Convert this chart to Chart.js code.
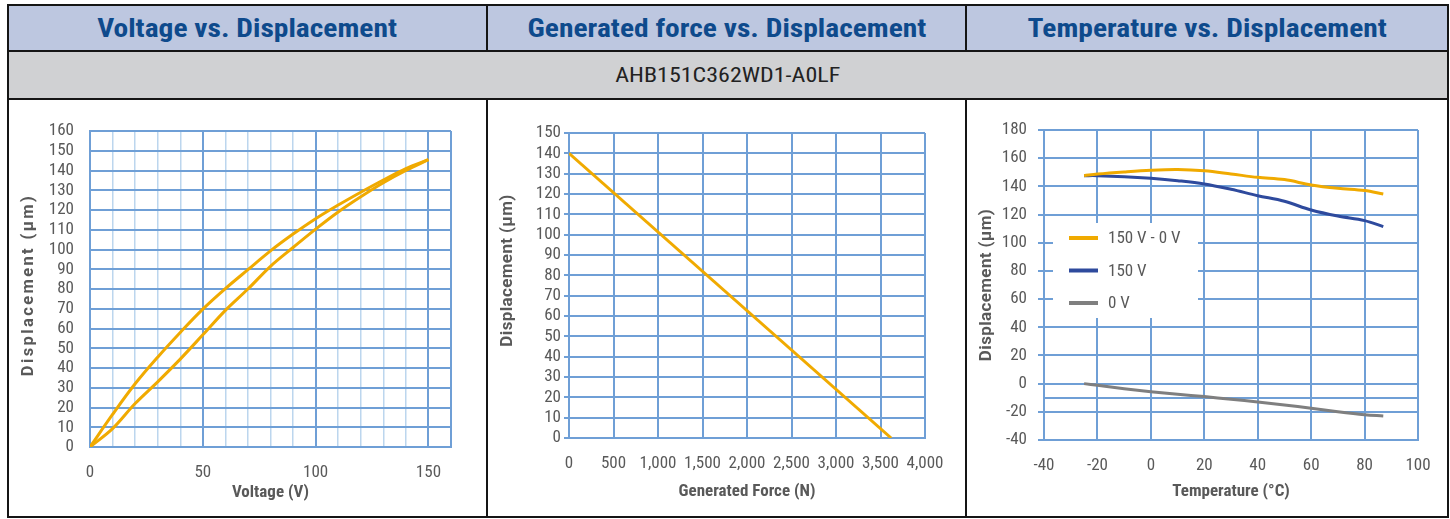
<!DOCTYPE html>
<html>
<head>
<meta charset="utf-8">
<script src="https://cdn.jsdelivr.net/npm/chart.js@4.4.1/dist/chart.umd.min.js"></script>
<style>
html,body{margin:0;padding:0;background:#fff;width:1450px;height:519px;overflow:hidden;}
.ln{position:absolute;background:#151515;}
.hd{position:absolute;top:6px;height:44px;background:#bdc7e0;display:flex;align-items:center;justify-content:center;font-weight:700;font-size:25px;color:#0e4a8c;white-space:nowrap;}
.gr{position:absolute;left:9px;top:52px;width:1438px;height:46px;background:#d0d1d3;display:flex;align-items:center;justify-content:center;font-size:20px;color:#222;}
.hd span,.gr span{display:inline-block;transform:scaleX(1.18);transform-origin:50% 50%;}
.gr span{transform:scaleX(1.2);}
.pn{position:absolute;top:100px;height:416px;background:#fff;}
canvas{display:block;}
</style>
</head>
<body>
<div class="hd" id="h1" style="left:9px;width:477px;"><span>Voltage vs. Displacement</span></div>
<div class="hd" id="h2" style="left:488px;width:477px;"><span>Generated force vs. Displacement</span></div>
<div class="hd" id="h3" style="left:967px;width:480px;"><span>Temperature vs. Displacement</span></div>
<div class="gr" id="model"><span>AHB151C362WD1-A0LF</span></div>
<div class="pn" style="left:9px;width:477px;"><canvas id="c1" width="477" height="416"></canvas></div>
<div class="pn" style="left:488px;width:477px;"><canvas id="c2" width="477" height="416"></canvas></div>
<div class="pn" style="left:967px;width:480px;"><canvas id="c3" width="480" height="416"></canvas></div>
<!-- table borders -->
<div class="ln" style="left:7px;top:4px;width:1442px;height:2px;"></div>
<div class="ln" style="left:7px;top:50px;width:1442px;height:2px;"></div>
<div class="ln" style="left:7px;top:98px;width:1442px;height:2px;"></div>
<div class="ln" style="left:7px;top:516px;width:1442px;height:2px;"></div>
<div class="ln" style="left:7px;top:4px;width:2px;height:514px;"></div>
<div class="ln" style="left:1447px;top:4px;width:2px;height:514px;"></div>
<div class="ln" style="left:486px;top:4px;width:2px;height:48px;"></div>
<div class="ln" style="left:965px;top:4px;width:2px;height:48px;"></div>
<div class="ln" style="left:486px;top:98px;width:2px;height:420px;"></div>
<div class="ln" style="left:965px;top:98px;width:2px;height:420px;"></div>
<script>
// ---------- DATA ----------
// Chart 1: Voltage vs. Displacement (hysteresis loop)
const voltageRise = [0, 10, 20, 30, 40, 50, 60, 70, 80, 90, 100, 110, 120, 130, 140, 150];
const dispRise    = [0, 9.3, 22, 33, 44.5, 56.8, 69.2, 80, 91.5, 101, 110.3, 119, 126.7, 133.8, 140, 145.5];
const voltageFall = [150, 140, 130, 120, 110, 100, 90, 80, 70, 60, 50, 40, 30, 20, 10, 0];
const dispFall    = [145.5, 141, 135.2, 129, 122.5, 115.6, 107.8, 99.3, 89.8, 80.2, 69.8, 58, 45.5, 32, 16.5, 0];

// Chart 2: Generated force vs. Displacement
const forceN    = [0, 3620];
const forceDisp = [140, 0];

// Chart 3: Temperature vs. Displacement
const tempC      = [-25, -20, -10, 0, 10, 20, 30, 40, 50, 60, 70, 80, 87];
const disp150to0 = [147.6, 148.7, 150.2, 151.4, 151.9, 151, 148.8, 146.4, 144.8, 141, 138.6, 137, 134.6];
const disp150    = [147.6, 147.6, 146.9, 145.7, 144, 141.7, 137.9, 133.4, 129.4, 123.2, 118.9, 115.7, 111.4];
const disp0      = [0, -1.2, -3.6, -5.7, -7.6, -9.2, -11.1, -13, -15.1, -17.5, -19.9, -22, -23];
const tempSeriesLabels = ['150 V - 0 V', '150 V', '0 V'];

// Tick settings
const voltTicks  = {min: 0, max: 160, step: 10, labelEvery: 50, lastLabel: 150};
const dispTicks1 = {min: 0, max: 160, step: 10};
const forceTicks = {min: 0, max: 4000, step: 500};
const dispTicks2 = {min: 0, max: 150, step: 10};
const tempTicks  = {min: -40, max: 100, step: 20};
const dispTicks3 = {min: -40, max: 180, step: 20, extra: -10};

// ---------- FONT ----------
function hasFont(name){
  const c = document.createElement('canvas').getContext('2d');
  const s = 'mmmmmmmmmmlli1234567890WwQq';
  let diff = false;
  for (const fb of ['monospace','serif']) {
    c.font = '72px ' + fb; const a = c.measureText(s).width;
    c.font = '72px "' + name + '", ' + fb; const b = c.measureText(s).width;
    if (a !== b) diff = true;
  }
  return diff;
}
const FAM = ['Roboto Condensed','Liberation Sans Narrow','Arial Narrow','Roboto'].find(hasFont) || 'Roboto';
const STACK = '"' + FAM + '", Roboto, sans-serif';
const WIDE = 'Roboto, "Open Sans", sans-serif';
document.querySelectorAll('.hd,.gr').forEach(e => e.style.fontFamily = STACK);

Chart.defaults.font.family = STACK;
Chart.defaults.color = '#595959';

const GRID = '#6f9fd6';
const GRID_MINOR = '#bcd6ee';
const GOLD = '#f0aa00';
const NAVY = '#2e4a9d';
const GREY = '#7f7f7f';
const TXT = '#595959';

function pts(xs, ys){ return xs.map((x, i) => ({x: x, y: ys[i]})); }

// y-axis title: spread letters to span a given length, optional vertical shift
function titlePatch(targetLen, dy){
  return {
    id: 'titlePatch',
    beforeDraw(chart){
      const s = chart.scales.y;
      if (s && !s._patched) {
        const orig = s.drawTitle;
        s.drawTitle = function(){
          const ctx = this.ctx;
          const t = this.options.title;
          ctx.save();
          ctx.font = Chart.helpers.toFont(t.font).string;
          const w = ctx.measureText(t.text).width;
          const ls = Math.max(-1, (targetLen - w) / (t.text.length - 1));
          ctx.letterSpacing = ls.toFixed(2) + 'px';
          ctx.translate(0, dy);
          orig.call(this);
          ctx.restore();
        };
        s._patched = true;
      }
    }
  };
}

const baseOpts = {
  responsive: false,
  animation: false,
  devicePixelRatio: 1,
  events: [],
  plugins: {legend: {display: false}, tooltip: {enabled: false}}
};
const tickFont = {size: 17};
const titleFont = {size: 17, weight: 'bold'};

// ---------- CHART 1 ----------
new Chart(document.getElementById('c1'), {
  type: 'scatter',
  data: {datasets: [
    {label: 'Rising', data: pts(voltageRise, dispRise)},
    {label: 'Falling', data: pts(voltageFall, dispFall)}
  ].map(d => Object.assign(d, {showLine: true, borderColor: GOLD, backgroundColor: GOLD, borderWidth: 3, pointRadius: 0, tension: 0.35}))},
  options: Object.assign({}, baseOpts, {
    layout: {padding: {left: 10, right: 35, top: 31, bottom: 13}},
    scales: {
      x: {
        type: 'linear', min: voltTicks.min, max: voltTicks.max,
        ticks: {stepSize: voltTicks.step, autoSkip: false, maxRotation: 0, padding: 16, font: tickFont, color: TXT,
          callback: v => (v % voltTicks.labelEvery === 0 && v <= voltTicks.lastLabel) ? String(v) : ''},
        grid: {drawTicks: false,
          color: c => (c.tick && (c.tick.value % voltTicks.labelEvery === 0 || c.tick.value === voltTicks.max)) ? GRID : GRID_MINOR,
          lineWidth: c => (c.tick && (c.tick.value % voltTicks.labelEvery === 0 || c.tick.value === voltTicks.max)) ? 2 : 1.5},
        border: {color: GRID, width: 2},
        title: {display: true, text: 'Voltage (V)', font: titleFont, color: TXT, padding: 0},
        afterFit: s => { s.height = 56; }
      },
      y: {
        type: 'linear', min: dispTicks1.min, max: dispTicks1.max,
        ticks: {stepSize: dispTicks1.step, autoSkip: false, padding: 16, font: tickFont, color: TXT, callback: v => String(v)},
        grid: {drawTicks: false, color: GRID, lineWidth: 2},
        border: {color: GRID, width: 2},
        title: {display: true, text: 'Displacement (µm)', font: {family: WIDE, size: 16.5, weight: 'bold'}, color: TXT, padding: 0},
        afterFit: s => { s.width = 71; }
      }
    }
  }),
  plugins: [titlePatch(180, -4)]
});

// ---------- CHART 2 ----------
new Chart(document.getElementById('c2'), {
  type: 'scatter',
  data: {datasets: [
    {label: 'Generated force', data: pts(forceN, forceDisp), showLine: true, borderColor: GOLD, backgroundColor: GOLD, borderWidth: 3, pointRadius: 0}
  ]},
  options: Object.assign({}, baseOpts, {
    layout: {padding: {left: 10, right: 40, top: 33, bottom: 14}},
    scales: {
      x: {
        type: 'linear', min: forceTicks.min, max: forceTicks.max,
        ticks: {stepSize: forceTicks.step, autoSkip: false, maxRotation: 0, padding: 16, font: tickFont, color: TXT,
          callback: v => v.toLocaleString('en-US')},
        grid: {drawTicks: false, color: GRID, lineWidth: 2},
        border: {color: GRID, width: 2},
        title: {display: true, text: 'Generated Force (N)', font: titleFont, color: TXT, padding: 0},
        afterFit: s => { s.height = 64; }
      },
      y: {
        type: 'linear', min: dispTicks2.min, max: dispTicks2.max,
        ticks: {stepSize: dispTicks2.step, autoSkip: false, padding: 3, font: tickFont, color: TXT, callback: v => String(v)},
        grid: {drawTicks: true, tickLength: 5, color: GRID, lineWidth: 2},
        border: {color: GRID, width: 2},
        title: {display: true, text: 'Displacement (µm)', font: {family: WIDE, size: 17, weight: 'bold'}, color: TXT, padding: 0},
        afterFit: s => { s.width = 71; }
      }
    }
  }),
  plugins: [titlePatch(152, -15)]
});

// ---------- CHART 3 ----------
const insideLegend = {
  id: 'insideLegend',
  afterDatasetsDraw(chart){
    const {ctx, chartArea: a} = chart;
    const bx = a.left + 9, by = a.top + 93, bw = 145, bh = 95;
    ctx.save();
    ctx.fillStyle = '#ffffff';
    ctx.fillRect(bx, by, bw, bh);
    ctx.font = '400 17px ' + STACK;
    ctx.textBaseline = 'middle';
    ctx.textAlign = 'left';
    chart.data.datasets.forEach((ds, i) => {
      const y = by + 15 + i * 32.5;
      ctx.strokeStyle = ds.borderColor;
      ctx.lineWidth = 4;
      ctx.beginPath(); ctx.moveTo(bx + 16, y); ctx.lineTo(bx + 45, y); ctx.stroke();
      ctx.fillStyle = TXT;
      ctx.fillText(ds.label, bx + 55, y + 1);
    });
    ctx.restore();
  }
};

new Chart(document.getElementById('c3'), {
  type: 'scatter',
  data: {datasets: [
    {label: tempSeriesLabels[0], data: pts(tempC, disp150to0), borderColor: GOLD},
    {label: tempSeriesLabels[1], data: pts(tempC, disp150), borderColor: NAVY},
    {label: tempSeriesLabels[2], data: pts(tempC, disp0), borderColor: GREY}
  ].map(d => Object.assign(d, {showLine: true, backgroundColor: d.borderColor, borderWidth: 3, pointRadius: 0, tension: 0.35}))},
  options: Object.assign({}, baseOpts, {
    layout: {padding: {left: 10, right: 29, top: 30, bottom: 14}},
    scales: {
      x: {
        type: 'linear', min: tempTicks.min, max: tempTicks.max,
        ticks: {stepSize: tempTicks.step, autoSkip: false, maxRotation: 0, padding: 16, font: tickFont, color: TXT, callback: v => String(v)},
        grid: {drawTicks: false, color: GRID, lineWidth: 2},
        border: {color: GRID, width: 2},
        title: {display: true, text: 'Temperature (°C)', font: titleFont, color: TXT, padding: 0},
        afterFit: s => { s.height = 62; }
      },
      y: {
        type: 'linear', min: dispTicks3.min, max: dispTicks3.max,
        afterBuildTicks: s => { s.ticks.push({value: dispTicks3.extra}); s.ticks.sort((p, q) => p.value - q.value); },
        ticks: {stepSize: dispTicks3.step, autoSkip: false, padding: 11, font: tickFont, color: TXT,
          callback: v => v === dispTicks3.extra ? '' : String(v)},
        grid: {drawTicks: true, tickLength: 6, color: GRID, lineWidth: 2,
          tickColor: c => (c.tick && c.tick.value === dispTicks3.extra) ? 'rgba(0,0,0,0)' : GRID},
        border: {color: GRID, width: 2},
        title: {display: true, text: 'Displacement (µm)', font: {family: WIDE, size: 17, weight: 'bold'}, color: TXT, padding: 0},
        afterFit: s => { s.width = 67; }
      }
    }
  }),
  plugins: [titlePatch(152, 0), insideLegend]
});
</script>
</body>
</html>
